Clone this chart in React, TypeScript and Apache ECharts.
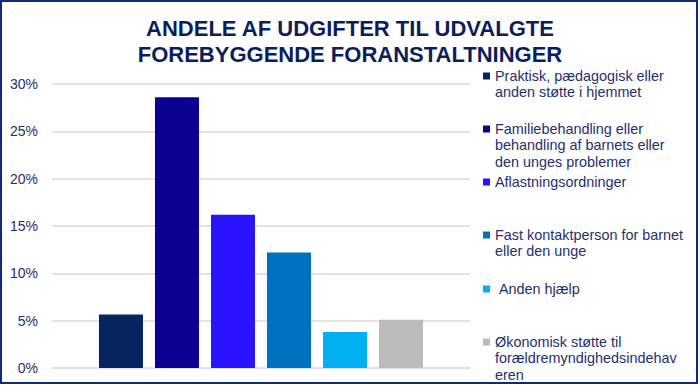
import React, { useEffect, useRef } from "react";
import * as echarts from "echarts";

const titleLines = ["ANDELE AF UDGIFTER TIL UDVALGTE", "FOREBYGGENDE FORANSTALTNINGER"];
const seriesNames = [
  "Praktisk, pædagogisk eller anden støtte i hjemmet",
  "Familiebehandling eller behandling af barnets eller den unges problemer",
  "Aflastningsordninger",
  "Fast kontaktperson for barnet eller den unge",
  "Anden hjælp",
  "Økonomisk støtte til forældremyndighedsindehaveren",
];
const legendLines = [
  ["Praktisk, pædagogisk eller", "anden støtte i hjemmet"],
  ["Familiebehandling eller", "behandling af barnets eller", "den unges problemer"],
  ["Aflastningsordninger"],
  ["Fast kontaktperson for barnet", "eller den unge"],
  ["\u00A0Anden hjælp"],
  ["Økonomisk støtte til", "forældremyndighedsindehav", "eren"],
];
const values = [0.0565, 0.286, 0.162, 0.122, 0.038, 0.051];
const colors = ["#06245E", "#0B0090", "#2A14FF", "#0070C0", "#00B0F0", "#BBBBBB"];
const legendCenters = [76, 129, 182, 235, 289, 342];
const yTicks = { min: 0, max: 0.3, interval: 0.05 };

const FONT = "'Liberation Sans', Arial, Helvetica, sans-serif";
const LH = 16.3;

export default function App() {
  const ref = useRef<HTMLDivElement>(null);
  useEffect(() => {
    const chart = echarts.init(ref.current!, null, { renderer: "svg" });
    const legends = seriesNames.map((name, i) => {
      const n = legendLines[i].length;
      const boxH = (2 * n - 1) * LH;
      return {
        data: [name],
        left: 483,
        top: legendCenters[i] - boxH / 2,
        padding: 0,
        orient: "vertical",
        itemWidth: 7,
        itemHeight: 7,
        icon: "rect",
        selectedMode: false,
        formatter: () => {
          const blanks = new Array(n - 1).fill("");
          return [...blanks, ...legendLines[i]].join("\n");
        },
        textStyle: {
          fontFamily: FONT,
          fontSize: 14.4,
          lineHeight: LH,
          color: "#1F2F6B",
        },
      };
    });
    chart.setOption({
      animation: false,
      backgroundColor: "#ffffff",
      title: {
        text: titleLines.join("\n"),
        left: "center",
        top: 10,
        textStyle: {
          fontFamily: FONT,
          fontSize: 22,
          fontWeight: "bold",
          lineHeight: 26,
          color: "#0A1E5C",
        },
      },
      graphic: [
        {
          type: "rect",
          shape: { x: 1, y: 1, width: 696, height: 382 },
          style: { fill: "none", stroke: "#0B2C74", lineWidth: 2 },
          silent: true,
        },
      ],
      legend: legends,
      grid: { left: 52, right: 230, top: 84, bottom: 18, containLabel: false },
      xAxis: {
        type: "category",
        data: [""],
        axisLine: { show: false },
        axisTick: { show: false },
        axisLabel: { show: false },
      },
      yAxis: {
        type: "value",
        min: yTicks.min,
        max: yTicks.max,
        interval: yTicks.interval,
        axisLine: { show: false },
        axisTick: { show: false },
        axisLabel: {
          margin: 14,
          fontFamily: FONT,
          fontSize: 14,
          color: "#1F2F6B",
          formatter: (v: number) => `${Math.round(v * 100)}%`,
        },
        splitLine: { lineStyle: { color: "#D9D9D9", width: 1.5 } },
      },
      series: seriesNames.map((name, i) => ({
        name,
        type: "bar",
        data: [values[i]],
        barWidth: 44,
        barGap: "27.3%",
        itemStyle: { color: colors[i] },
      })),
    });
    return () => chart.dispose();
  }, []);
  return (
    <div
      ref={ref}
      style={{ position: "fixed", left: 0, top: 0, width: 700, height: 386 }}
    />
  );
}
